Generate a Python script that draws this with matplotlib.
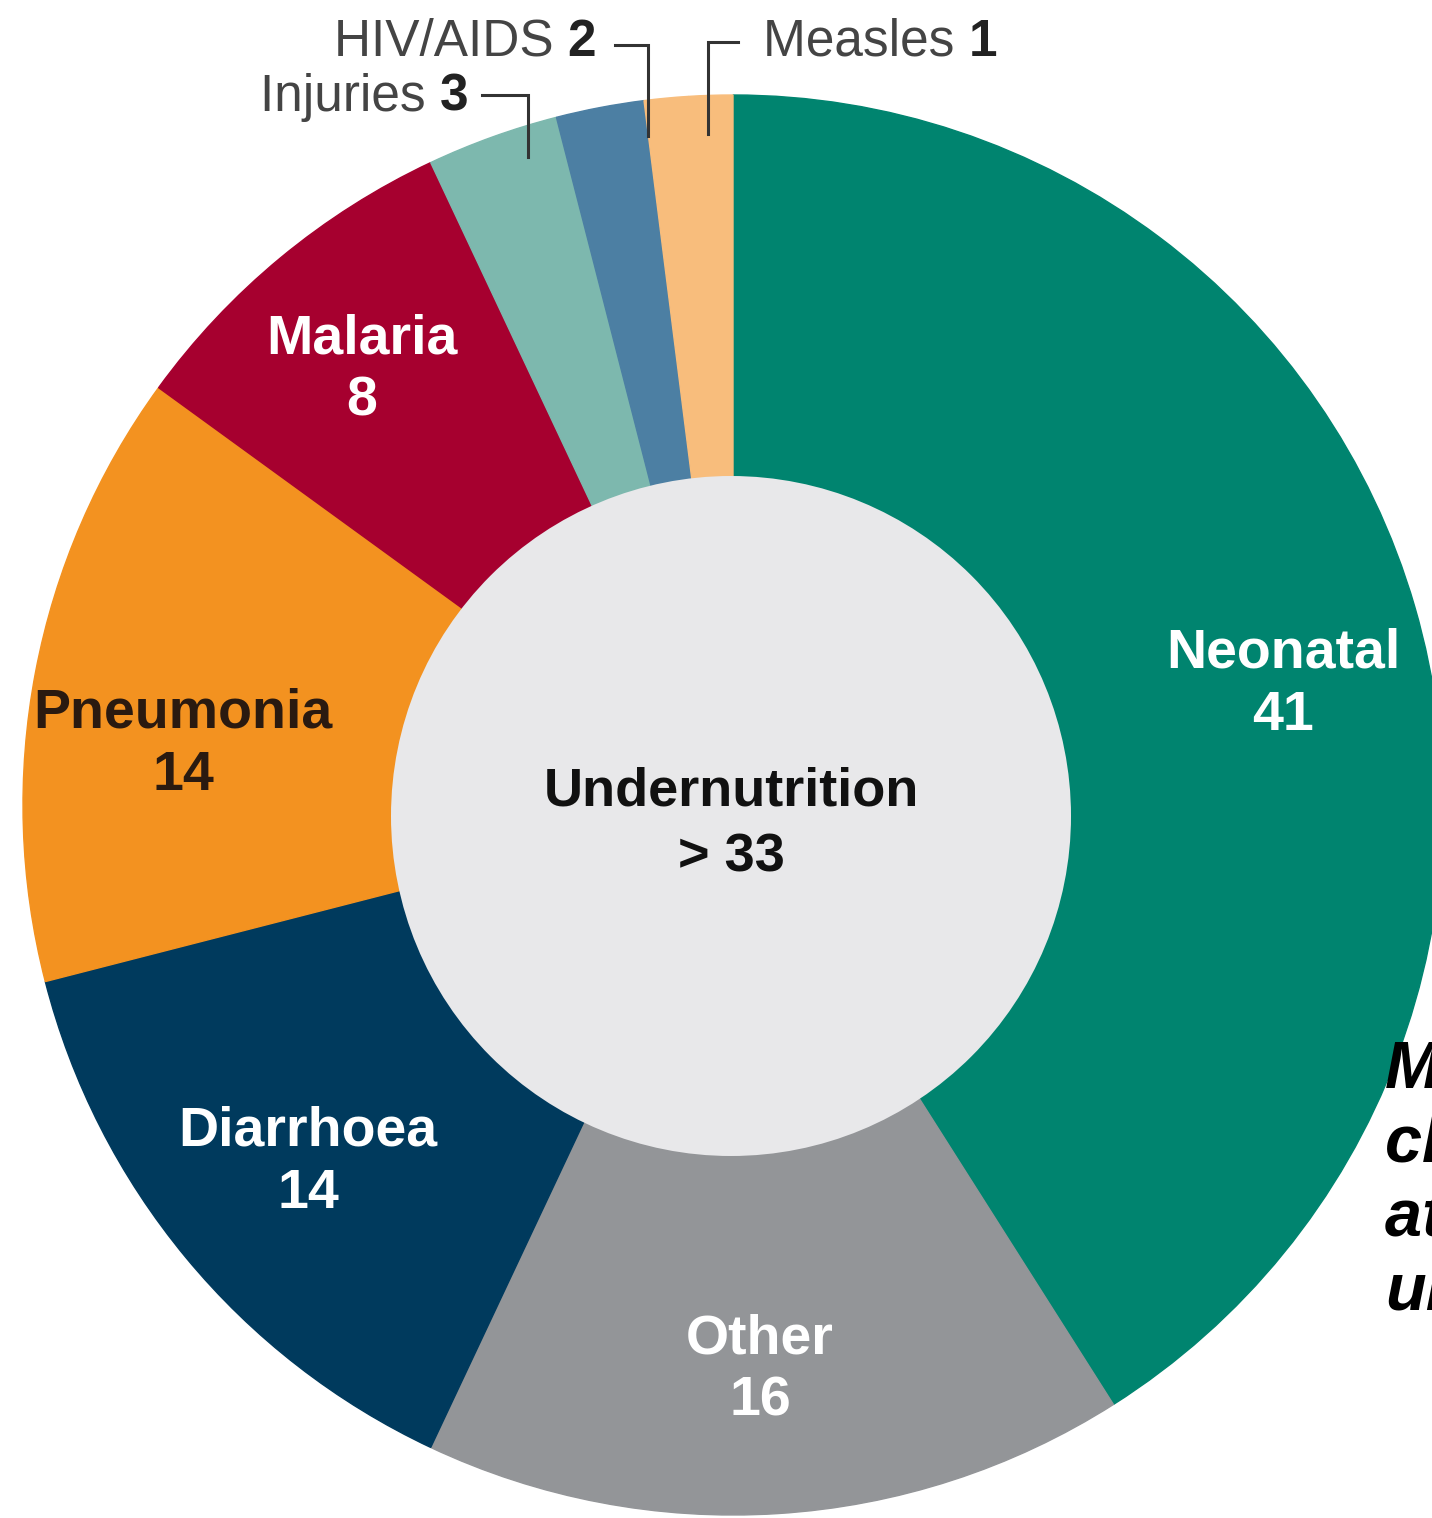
import matplotlib.pyplot as plt
from matplotlib.patches import Circle

# Causes of death among children under five (%), clockwise from the top
causes = ['Neonatal', 'Other', 'Diarrhoea', 'Pneumonia', 'Malaria', 'Injuries', 'HIV/AIDS', 'Measles']
shares = [41, 16, 14, 14, 8, 3, 2, 1]
colors = ['#00846f', '#939598', '#003a5d', '#f39220', '#a6002f', '#7db8ae', '#4c7fa3', '#f8bd7c']
center_label = 'Undernutrition'
center_value = '> 33'

W, H = 1432, 1518
fig = plt.figure(figsize=(W / 100, H / 100), dpi=100)
ax = fig.add_axes([0, 0, 1, 1])

# the published ring is laid out on a total of 100; the rounding gap is closed by the last slice
remainder = 100 - sum(shares)
cx, cy, R = 733, H - 805, 710
wedges, _ = ax.pie(shares + [remainder], colors=colors + [colors[-1]], startangle=90,
                   counterclock=False, center=(cx, cy), radius=R, frame=True)
for w in wedges:
    w.set_edgecolor(w.get_facecolor())
    w.set_linewidth(1.0)
ax.set_xlim(0, W)
ax.set_ylim(0, H)
ax.set_aspect('equal')
ax.axis('off')

ax.add_patch(Circle((731, H - 816), 340, facecolor='#e8e8ea', edgecolor='none', zorder=3))
ax.text(731, H - 792, center_label, ha='center', va='center', fontsize=39,
        fontweight='bold', family='Liberation Sans', color='#111111', zorder=4)
ax.text(731, H - 857, center_value, ha='center', va='center', fontsize=39,
        fontweight='bold', family='Liberation Sans', color='#111111', zorder=4)

# labels inside the big slices (pixel positions from the top)
inside = {
    'Neonatal': (1283, 685, 'white'),
    'Other': (760, 1370, 'white'),
    'Diarrhoea': (308, 1163, 'white'),
    'Pneumonia': (183, 745, '#2a1a10'),
    'Malaria': (362, 370, 'white'),
}
for name, val in zip(causes, shares):
    if name in inside:
        x, y, c = inside[name]
        ax.text(x, H - y, f'{name}\n{val}', ha='center', va='center', fontsize=40,
                fontweight='bold', family='Liberation Sans', color=c, linespacing=1.25, zorder=4)

# small slices labelled outside with bracket leaders
lc = '#333333'
outside = {
    'Injuries': dict(tx=468, ty=97, ha='right', line=[(482, 95), (528, 95), (528, 157)]),
    'HIV/AIDS': dict(tx=596, ty=42, ha='right', line=[(615, 45), (648, 45), (648, 136)]),
    'Measles': dict(tx=763, ty=42, ha='left', line=[(738, 42), (708, 42), (708, 134)]),
}
for name, val in zip(causes, shares):
    if name in outside:
        o = outside[name]
        xs = [p[0] for p in o['line']]
        ys = [H - p[1] for p in o['line']]
        ax.plot(xs, ys, color=lc, lw=2.2, zorder=4, solid_joinstyle='miter')
        if o['ha'] == 'right':
            t = ax.text(o['tx'], H - o['ty'], f'{val}', ha='right', va='center',
                        fontsize=37, fontweight='bold', family='Liberation Sans', color='#222222')
            ax.annotate(f'{name} ', xycoords=t, xy=(0, 0.5), ha='right', va='center',
                        fontsize=37, family='Liberation Sans', color='#444444')
        else:
            t = ax.text(o['tx'], H - o['ty'], f'{name} ', ha='left', va='center',
                        fontsize=37, family='Liberation Sans', color='#444444')
            ax.annotate(f'{val}', xycoords=t, xy=(1, 0.5), ha='left', va='center',
                        fontsize=37, fontweight='bold', family='Liberation Sans', color='#222222')

# caption running off the right edge, as in the original crop
ax.text(1385, H - 1040, 'More than a third of\nchild deaths are\nattributable to\nundernutrition',
        ha='left', va='top', fontsize=48, fontweight='bold', fontstyle='italic',
        family='Liberation Sans', color='black', linespacing=1.25, clip_on=False, zorder=5)

fig.savefig('out.png', dpi=100)
